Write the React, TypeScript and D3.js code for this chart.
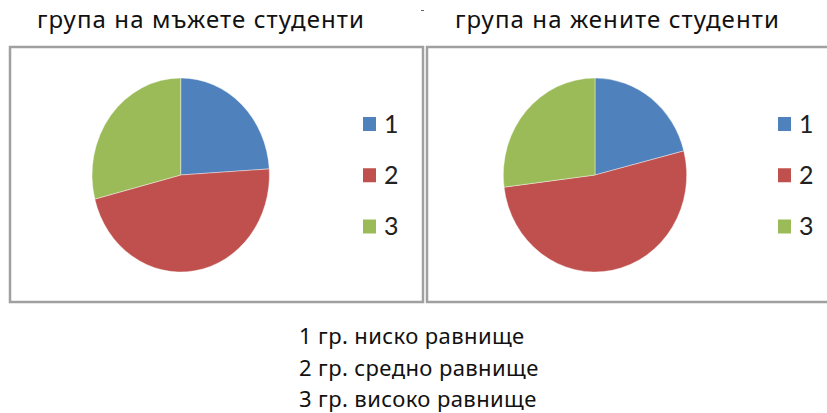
import React from 'react';
import * as d3 from 'd3';

const categories = ['1', '2', '3'];
const maleValues = [24, 47, 29];
const femaleValues = [21, 52, 27];
const colors = ['#4F81BD', '#C0504D', '#9BBB59'];
const titles = ['група на мъжете студенти', 'група на жените студенти'];
const notes = ['1 гр. ниско равнище', '2 гр. средно равнище', '3 гр. високо равнище'];

const W = 827;
const H = 413;

type Panel = {
  values: number[];
  title: string;
  titleX: number;
  frameX: number;
  frameW: number;
  cx: number;
  rx: number;
  legendX: number;
};

const panels: Panel[] = [
  { values: maleValues, title: titles[0], titleX: 37, frameX: 10, frameW: 413, cx: 180.7, rx: 88.7, legendX: 363 },
  { values: femaleValues, title: titles[1], titleX: 455, frameX: 427, frameW: 420, cx: 595, rx: 91.7, legendX: 778 },
];

const CY = 175;
const RY = 97;
const FRAME_TOP = 47;
const FRAME_BOTTOM = 302;

function PiePanel({ p }: { p: Panel }) {
  const pie = d3.pie<number>().sort(null).value((d) => d);
  const arcs = pie(p.values);
  const arc = d3.arc<d3.PieArcDatum<number>>().innerRadius(0).outerRadius(RY);
  const legendY = d3.scalePoint<string>().domain(categories).range([124, 226.5]);
  return (
    <g>
      <rect
        x={p.frameX}
        y={FRAME_TOP}
        width={p.frameW}
        height={FRAME_BOTTOM - FRAME_TOP}
        fill="#fff"
        stroke="#a0a0a0"
        strokeWidth={2.5}
      />
      <text
        x={p.titleX}
        y={28}
        lang="bg"
        fontFamily="'Noto Sans', 'Liberation Sans', sans-serif"
        fontSize={24}
        letterSpacing={1.1}
        fill="#111"
      >
        {p.title}
      </text>
      <g transform={`translate(${p.cx},${CY}) scale(${p.rx / RY},1)`}>
        {arcs.map((a, i) => (
          <path key={i} d={arc(a) || ''} fill={colors[i]} stroke="#fff" strokeWidth={0.6} strokeOpacity={0.7} />
        ))}
      </g>
      {categories.map((c, i) => (
        <g key={c} transform={`translate(${p.legendX},${legendY(c)})`}>
          <rect x={0} y={-7} width={13} height={14} fill={colors[i]} />
          <text x={21} y={8.5} fontFamily="Lato, 'Open Sans', sans-serif" fontSize={25} fill="#222">
            {c}
          </text>
        </g>
      ))}
    </g>
  );
}

export default function App() {
  const noteY = d3.scalePoint<string>().domain(notes).range([344, 407]);
  return (
    <svg
      width={W}
      height={H}
      viewBox={`0 0 ${W} ${H}`}
      style={{ position: 'absolute', left: 0, top: 0, background: '#fff' }}
    >
      <rect x={0} y={0} width={W} height={H} fill="#fff" />
      {panels.map((p, i) => (
        <PiePanel key={i} p={p} />
      ))}
      <line x1={421} x2={424} y1={10.5} y2={10.5} stroke="#666" strokeWidth={1} />
      {notes.map((n) => (
        <text
          key={n}
          x={299}
          y={noteY(n)}
          lang="bg"
          fontFamily="'Noto Sans', 'Liberation Sans', sans-serif"
          fontSize={22}
          letterSpacing={0.4}
          fill="#111"
        >
          {n}
        </text>
      ))}
    </svg>
  );
}
